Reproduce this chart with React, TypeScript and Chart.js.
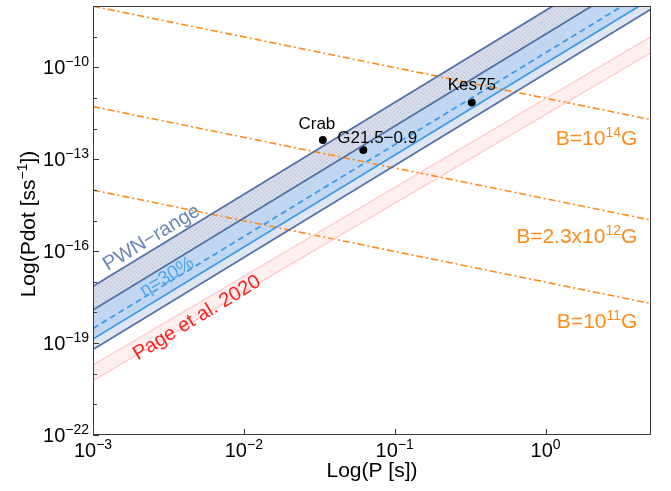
import React, { useEffect, useRef } from 'react';
import { Chart, registerables } from 'chart.js';

Chart.register(...registerables);

// ---- data ----
const periodRange = [1e-3, 5];
const pwnUpper = [7.1e-18, 8.9e-7];
const pwnMiddle = [1.2e-18, 1.5e-7];
const etaDashed = [3.0e-19, 3.7e-8];
const etaSolid = [1.35e-19, 1.7e-8];
const pwnLower = [6.2e-20, 7.8e-9];
const pageUpper = [1.9e-20, 1.0e-9];
const pageLower = [6.0e-21, 3.0e-10];
const bField14 = [9.8e-9, 1.95e-12];
const bField23e12 = [5.2e-12, 1.03e-15];
const bField11 = [9.8e-15, 1.95e-18];

const pulsarNames = ['Crab', 'G21.5\u22120.9', 'Kes75'];
const pulsarPeriods = [0.0334, 0.0619, 0.324];
const pulsarPdots = [4.2e-13, 2.0e-13, 7.1e-12];

const xTickValues = [1e-3, 1e-2, 1e-1, 1];
const xTickExponents = ['\u22123', '\u22122', '\u22121', '0'];
const yTickValues = [1e-22, 1e-19, 1e-16, 1e-13, 1e-10];
const yTickExponents = ['\u221222', '\u221219', '\u221216', '\u221213', '\u221210'];
const yMinorTickValues = [1e-21, 1e-20, 1e-18, 1e-17, 1e-15, 1e-14, 1e-12, 1e-11, 1e-9];

const bLabelParts = [
  ['B=10', '14', 'G'],
  ['B=2.3x10', '12', 'G'],
  ['B=10', '11', 'G'],
];
const bLabelAnchors = [
  [4.06, 2.9e-13],
  [4.06, 1.85e-16],
  [4.06, 3.1e-19],
];

const bandLabels = ['PWN\u2212range', '\u03b7=30%', 'Page et al. 2020'];
const bandLabelAnchors = [
  [2.45e-3, 2.7e-16],
  [3.09e-3, 1.44e-17],
  [4.89e-3, 6.6e-19],
];

// ---- styles ----
const FONT = '"Liberation Sans", Arial, Helvetica, sans-serif';
const DARK_BLUE = '#5270a8';
const LIGHT_BLUE = '#3c9ce8';
const PINK = '#ffcfcf';
const ORANGE = '#ff8c1a';
const FRAME = '#3a3a3a';

const pulsarLabelOffsets = [
  [-6, -11, 'center'],
  [-26, -7, 'left'],
  [-24, -12, 'left'],
];
const bandLabelColors = ['#6a86b8', '#4aa8f0', '#ff1f1f'];
const bandLabelSizes = [20, 19, 20];

function makeLine(ys: number[]) {
  return periodRange.map((x, i) => ({ x, y: ys[i] }));
}

function drawSuper(
  ctx: CanvasRenderingContext2D,
  x: number,
  y: number,
  base: string,
  sup: string,
  tail: string,
  size: number,
  supSize: number,
  raise: number,
  align: 'left' | 'right' | 'center',
  color: string
) {
  ctx.save();
  ctx.fillStyle = color;
  ctx.textAlign = 'left';
  ctx.textBaseline = 'alphabetic';
  ctx.font = `${size}px ${FONT}`;
  const wb = ctx.measureText(base).width;
  const wt = tail ? ctx.measureText(tail).width : 0;
  ctx.font = `${supSize}px ${FONT}`;
  const ws = ctx.measureText(sup).width;
  const total = wb + ws + wt;
  let sx = x;
  if (align === 'right') sx = x - total;
  else if (align === 'center') sx = x - total / 2;
  ctx.font = `${size}px ${FONT}`;
  ctx.fillText(base, sx, y);
  ctx.font = `${supSize}px ${FONT}`;
  ctx.fillText(sup, sx + wb, y - raise);
  if (tail) {
    ctx.font = `${size}px ${FONT}`;
    ctx.fillText(tail, sx + wb + ws, y);
  }
  ctx.restore();
}

const decorPlugin = {
  id: 'decor',
  afterDraw(chart: any) {
    const { ctx, chartArea: a, scales } = chart;
    const xs = scales.x;
    const ys = scales.y;

    // band labels (rotated)
    const p1x = xs.getPixelForValue(periodRange[0]);
    const p2x = xs.getPixelForValue(periodRange[1]);
    const p1y = ys.getPixelForValue(pwnMiddle[0]);
    const p2y = ys.getPixelForValue(pwnMiddle[1]);
    const angle = Math.atan2(p1y - p2y, p2x - p1x);
    bandLabels.forEach((t, i) => {
      const px = xs.getPixelForValue(bandLabelAnchors[i][0]);
      const py = ys.getPixelForValue(bandLabelAnchors[i][1]);
      ctx.save();
      ctx.translate(px, py);
      ctx.rotate(-angle);
      ctx.font = `${bandLabelSizes[i]}px ${FONT}`;
      ctx.fillStyle = bandLabelColors[i];
      ctx.textAlign = 'center';
      ctx.textBaseline = 'middle';
      ctx.fillText(t, 0, 0);
      ctx.restore();
    });

    // pulsar labels
    ctx.save();
    ctx.font = `17px ${FONT}`;
    ctx.fillStyle = '#000';
    ctx.textBaseline = 'alphabetic';
    pulsarNames.forEach((n, i) => {
      const px = xs.getPixelForValue(pulsarPeriods[i]);
      const py = ys.getPixelForValue(pulsarPdots[i]);
      const off = pulsarLabelOffsets[i];
      ctx.textAlign = off[2] as CanvasTextAlign;
      ctx.fillText(n, px + (off[0] as number), py + (off[1] as number));
    });
    ctx.restore();

    // B-field labels
    bLabelParts.forEach((p, i) => {
      const px = xs.getPixelForValue(bLabelAnchors[i][0]);
      const py = ys.getPixelForValue(bLabelAnchors[i][1]);
      drawSuper(ctx, px, py, p[0], p[1], p[2], 21, 14, 8, 'right', ORANGE);
    });

    // frame
    ctx.save();
    ctx.strokeStyle = FRAME;
    ctx.lineWidth = 1;
    ctx.strokeRect(a.left + 0.5, a.top + 0.5, a.right - a.left - 1, a.bottom - a.top - 1);
    ctx.beginPath();
    xTickValues.forEach((v) => {
      const px = Math.round(xs.getPixelForValue(v)) + 0.5;
      ctx.moveTo(px, a.bottom);
      ctx.lineTo(px, a.bottom - 6);
    });
    yTickValues.forEach((v) => {
      const py = Math.round(ys.getPixelForValue(v)) + 0.5;
      ctx.moveTo(a.left, py);
      ctx.lineTo(a.left + 6, py);
    });
    yMinorTickValues.forEach((v) => {
      const py = Math.round(ys.getPixelForValue(v)) + 0.5;
      ctx.moveTo(a.left, py);
      ctx.lineTo(a.left + 4, py);
    });
    ctx.stroke();
    ctx.restore();

    // tick labels
    xTickValues.forEach((v, i) => {
      const px = xs.getPixelForValue(v);
      drawSuper(ctx, px, a.bottom + 22, '10', xTickExponents[i], '', 20, 14, 8, 'center', '#000');
    });
    yTickValues.forEach((v, i) => {
      const py = ys.getPixelForValue(v);
      drawSuper(ctx, a.left - 4, py + 7, '10', yTickExponents[i], '', 20, 14, 8, 'right', '#000');
    });

    // axis titles
    ctx.save();
    ctx.fillStyle = '#000';
    ctx.font = `21px ${FONT}`;
    ctx.textAlign = 'center';
    ctx.textBaseline = 'alphabetic';
    ctx.fillText('Log(P [s])', (a.left + a.right) / 2, 477);
    ctx.restore();

    ctx.save();
    ctx.translate(35, 224);
    ctx.rotate(-Math.PI / 2);
    drawSuper(ctx, 0, 0, 'Log(Pdot [ss', '\u22121', '])', 21, 14, 8, 'center', '#000');
    ctx.restore();
  },
};

export default function App() {
  const canvasRef = useRef<HTMLCanvasElement | null>(null);

  useEffect(() => {
    const canvas = canvasRef.current;
    if (!canvas) return;
    const ctx = canvas.getContext('2d')!;

    const pc = document.createElement('canvas');
    pc.width = 4;
    pc.height = 4;
    const g = pc.getContext('2d')!;
    g.fillStyle = 'rgb(211,217,231)';
    g.fillRect(0, 0, 4, 4);
    g.fillStyle = 'rgb(192,200,218)';
    g.fillRect(0, 0, 1, 1);
    g.fillRect(2, 2, 1, 1);
    g.fillStyle = 'rgb(224,228,238)';
    g.fillRect(2, 0, 1, 1);
    g.fillRect(0, 2, 1, 1);
    const pattern = ctx.createPattern(pc, 'repeat')!;

    const lineBase = { pointRadius: 0, borderWidth: 1.8, tension: 0 };
    const dashDot = [7, 3, 2, 3];

    const chart = new Chart(ctx, {
      type: 'line',
      data: {
        datasets: [
          { ...lineBase, label: 'PWN upper', data: makeLine(pwnUpper), borderColor: DARK_BLUE, fill: '+1', backgroundColor: pattern },
          { ...lineBase, label: 'PWN middle', data: makeLine(pwnMiddle), borderColor: DARK_BLUE, fill: '+2', backgroundColor: '#c1d7f1' },
          { ...lineBase, label: 'eta dashed', data: makeLine(etaDashed), borderColor: LIGHT_BLUE, borderDash: [6, 4], fill: false },
          { ...lineBase, label: 'eta solid', data: makeLine(etaSolid), borderColor: LIGHT_BLUE, fill: '+1', backgroundColor: '#dfe5f1' },
          { ...lineBase, label: 'PWN lower', data: makeLine(pwnLower), borderColor: DARK_BLUE, fill: false },
          { ...lineBase, label: 'Page upper', data: makeLine(pageUpper), borderColor: PINK, borderWidth: 1.5, fill: '+1', backgroundColor: '#fff0f0' },
          { ...lineBase, label: 'Page lower', data: makeLine(pageLower), borderColor: PINK, borderWidth: 1.5, fill: false },
          { ...lineBase, label: 'B14', data: makeLine(bField14), borderColor: ORANGE, borderDash: dashDot, borderWidth: 1.6, fill: false },
          { ...lineBase, label: 'B2.3e12', data: makeLine(bField23e12), borderColor: ORANGE, borderDash: dashDot, borderWidth: 1.6, fill: false },
          { ...lineBase, label: 'B11', data: makeLine(bField11), borderColor: ORANGE, borderDash: dashDot, borderWidth: 1.6, fill: false },
          {
            type: 'scatter',
            label: 'pulsars',
            data: pulsarPeriods.map((x, i) => ({ x, y: pulsarPdots[i] })),
            showLine: false,
            pointRadius: 4,
            pointBackgroundColor: '#000',
            pointBorderColor: '#000',
            pointBorderWidth: 0,
            fill: false,
          },
        ],
      },
      options: {
        animation: false,
        responsive: true,
        maintainAspectRatio: false,
        layout: { padding: { left: 93, right: 20, top: 6, bottom: 56 } },
        plugins: {
          legend: { display: false },
          tooltip: { enabled: false },
          filler: { drawTime: 'beforeDatasetsDraw' },
        },
        events: [],
        scales: {
          x: { type: 'logarithmic', min: 1e-3, max: 5, display: false },
          y: { type: 'logarithmic', min: 1e-22, max: 1e-8, display: false },
        },
      },
      plugins: [decorPlugin],
    } as any);

    return () => chart.destroy();
  }, []);

  return (
    <div style={{ position: 'fixed', left: 0, top: 0, width: 671, height: 491, background: '#fff' }}>
      <canvas ref={canvasRef} />
    </div>
  );
}
